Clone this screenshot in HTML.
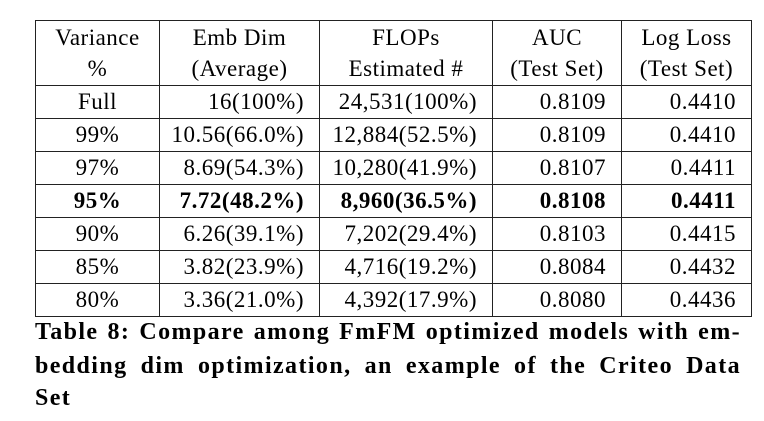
<!DOCTYPE html>
<html><head><meta charset="utf-8"><style>
body{margin:0;background:#fff;width:764px;height:421px;overflow:hidden;font-family:"Liberation Serif",serif;color:#000}
table{position:absolute;left:35px;top:20px;border-collapse:collapse;font-size:23px;letter-spacing:0.5px}
td{border:1.5px solid #222;padding:0 15px 0 0;text-align:right;height:32px;line-height:32px;white-space:nowrap}
td:first-child{text-align:center;padding:0}
tr.h td{text-align:center;line-height:31px;height:64px;padding:0}
tr.b td{font-weight:bold}
.cap{position:absolute;left:35px;width:706px;font-weight:bold;font-size:24px;letter-spacing:1.4px;line-height:32px;text-align:justify;text-align-last:justify;white-space:nowrap}
</style></head><body>
<table>
<colgroup><col style="width:124px"><col style="width:160px"><col style="width:173px"><col style="width:129px"><col style="width:130px"></colgroup>
<tr class="h"><td>Variance<br>%</td><td>Emb Dim<br>(Average)</td><td>FLOPs<br>Estimated #</td><td>AUC<br>(Test Set)</td><td>Log Loss<br>(Test Set)</td></tr>
<tr><td>Full</td><td>16(100%)</td><td>24,531(100%)</td><td>0.8109</td><td>0.4410</td></tr>
<tr><td>99%</td><td>10.56(66.0%)</td><td>12,884(52.5%)</td><td>0.8109</td><td>0.4410</td></tr>
<tr><td>97%</td><td>8.69(54.3%)</td><td>10,280(41.9%)</td><td>0.8107</td><td>0.4411</td></tr>
<tr class="b"><td>95%</td><td>7.72(48.2%)</td><td>8,960(36.5%)</td><td>0.8108</td><td>0.4411</td></tr>
<tr><td>90%</td><td>6.26(39.1%)</td><td>7,202(29.4%)</td><td>0.8103</td><td>0.4415</td></tr>
<tr><td>85%</td><td>3.82(23.9%)</td><td>4,716(19.2%)</td><td>0.8084</td><td>0.4432</td></tr>
<tr><td>80%</td><td>3.36(21.0%)</td><td>4,392(17.9%)</td><td>0.8080</td><td>0.4436</td></tr>
</table>
<div class="cap" style="top:316px">Table 8: Compare among FmFM optimized models with em-</div>
<div class="cap" style="top:350px">bedding dim optimization, an example of the Criteo Data</div>
<div class="cap" style="top:382px;text-align:left;text-align-last:left">Set</div>
</body></html>
